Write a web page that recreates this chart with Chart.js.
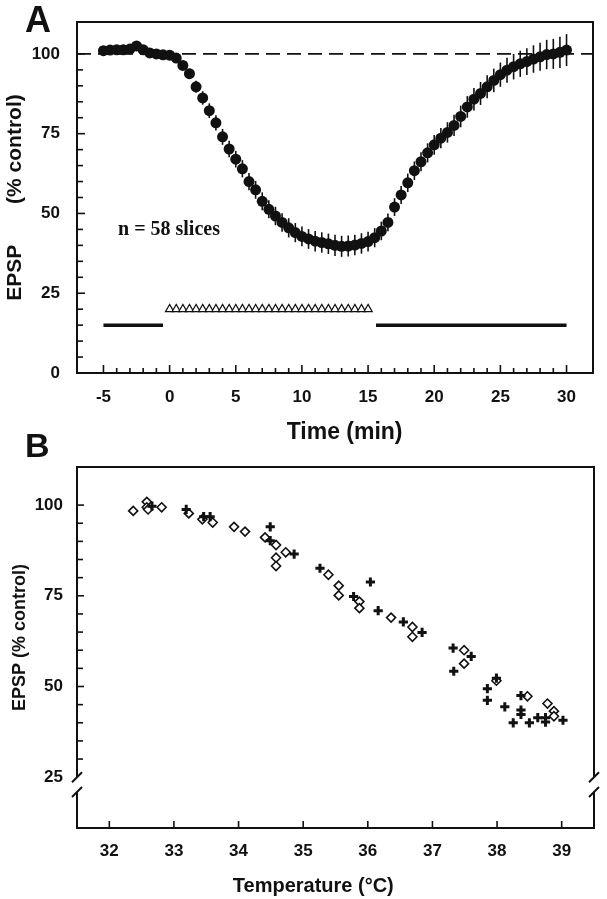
<!DOCTYPE html>
<html>
<head>
<meta charset="utf-8">
<script src="https://cdn.jsdelivr.net/npm/chart.js@4.4.0/dist/chart.umd.min.js"></script>
<style>
  body { margin: 0; background: #fff; width: 607px; height: 899px; position: relative; overflow: hidden; }
  #wrapA { position: absolute; left: 0; top: 0; width: 607px; height: 450px; }
  #wrapB { position: absolute; left: 0; top: 450px; width: 607px; height: 449px; }
  .panel { position: absolute; font: bold 36px "Liberation Sans", Arial, sans-serif; line-height: 1; color: #111; }
</style>
</head>
<body>
<div id="wrapA"><canvas id="chartA"></canvas></div>
<div id="wrapB"><canvas id="chartB"></canvas></div>
<div class="panel" style="left:25px;top:2px">A</div>
<div class="panel" style="left:25px;top:428px;font-size:34px">B</div>
<script>
// ---- panel A : EPSP vs time ----
var timesA = [-5, -4.5, -4, -3.5, -3, -2.5, -2, -1.5, -1, -0.5,
  0, 0.5, 1, 1.5, 2, 2.5, 3, 3.5, 4, 4.5,
  5, 5.5, 6, 6.5, 7, 7.5, 8, 8.5, 9, 9.5,
  10, 10.5, 11, 11.5, 12, 12.5, 13, 13.5, 14, 14.5,
  15, 15.5, 16, 16.5, 17, 17.5, 18, 18.5, 19, 19.5,
  20, 20.5, 21, 21.5, 22, 22.5, 23, 23.5, 24, 24.5,
  25, 25.5, 26, 26.5, 27, 27.5, 28, 28.5, 29, 29.5, 30];
var epspA = [101.0, 101.2, 101.3, 101.3, 101.5, 102.5, 101.3, 100.3, 100.0, 99.7,
  99.6, 98.7, 96.4, 93.8, 89.7, 86.2, 82.2, 78.4, 74.0, 70.2,
  67.0, 64.0, 60.0, 57.4, 53.8, 51.3, 49.2, 47.2, 45.5, 44.0,
  42.8, 42.0, 41.3, 40.9, 40.5, 40.0, 39.7, 39.8, 40.1, 40.6,
  41.2, 42.4, 44.5, 47.2, 52.0, 55.8, 59.6, 63.4, 66.2, 69.0,
  71.5, 73.6, 75.4, 77.6, 80.4, 83.4, 85.8, 87.6, 89.7, 91.7,
  93.5, 94.9, 96.0, 96.9, 97.6, 98.4, 99.1, 99.8, 100.0, 100.5, 101.2];
var semA = [0.8, 0.8, 0.8, 0.8, 0.8, 0.8, 0.8, 0.8, 0.8, 0.8,
  0.8, 1.0, 1.3, 1.6, 1.9, 2.1, 2.3, 2.4, 2.5, 2.6,
  2.6, 2.7, 2.7, 2.8, 2.8, 2.8, 2.9, 2.9, 3.0, 3.0,
  3.1, 3.1, 3.2, 3.2, 3.2, 3.3, 3.3, 3.3, 3.2, 3.2,
  3.1, 3.0, 2.9, 2.8, 2.8, 2.8, 2.9, 2.9, 3.0, 3.0,
  3.1, 3.2, 3.2, 3.3, 3.4, 3.4, 3.5, 3.6, 3.6, 3.7,
  3.8, 3.9, 4.0, 4.1, 4.2, 4.3, 4.4, 4.6, 4.7, 4.9, 5.0];
var baselineA = 100;
var solidBars = [[-5, -0.5], [15.6, 30]];   // control periods
var solidLevel = 15;
var triTimes = [0, 0.5, 1, 1.5, 2, 2.5, 3, 3.5, 4, 4.5, 5, 5.5, 6, 6.5, 7, 7.5,
  8, 8.5, 9, 9.5, 10, 10.5, 11, 11.5, 12, 12.5, 13, 13.5, 14, 14.5, 15];
var triLevel = 20;
var xTicksA = [-5, 0, 5, 10, 15, 20, 25, 30];
var yTicksA = [0, 25, 50, 75, 100];

// ---- panel B : EPSP vs temperature ----
var diamondT = [32.37, 32.58, 32.58, 32.6, 32.81, 33.23, 33.44, 33.6, 33.93, 34.1,
  34.41, 34.58, 34.58, 34.58, 34.73, 35.39, 35.55, 35.55, 35.87, 35.87,
  36.36, 36.69, 36.69, 37.49, 37.49, 37.99, 38.47, 38.78, 38.88, 38.88];
var diamondV = [98.4, 100.9, 99.4, 98.8, 99.4, 97.7, 96.1, 95.2, 94.0, 92.7,
  91.1, 89.0, 85.5, 83.2, 87.0, 80.8, 77.8, 75.1, 73.4, 71.6,
  69.0, 66.4, 63.7, 60.0, 56.3, 51.6, 47.3, 45.3, 43.2, 41.8];
var crossT = [32.66, 33.19, 33.46, 33.56, 34.49, 34.49, 34.86, 35.26, 35.78, 36.04,
  36.16, 36.55, 36.84, 37.32, 37.6, 37.33, 37.85, 37.85, 37.99, 38.12,
  38.37, 38.37, 38.37, 38.25, 38.5, 38.63, 38.75, 38.75, 39.02];
var crossV = [99.7, 98.8, 96.8, 96.8, 94.0, 90.2, 86.5, 82.6, 74.8, 78.8,
  70.9, 67.8, 64.9, 60.6, 58.3, 54.2, 49.4, 46.2, 52.3, 44.4,
  47.5, 43.5, 42.3, 40.0, 40.0, 41.4, 41.4, 40.2, 40.7];
var xTicksB = [32, 33, 34, 35, 36, 37, 38, 39];
var yTicksB = [25, 50, 75, 100];

Chart.defaults.font.family = '"Liberation Sans", Arial, sans-serif';
Chart.defaults.color = '#111';
var ink = '#111';

function pts(xs, ys) {
  return xs.map(function (x, i) { return { x: x, y: ys[i] }; });
}

// box round the plot and inward tick marks
var frame = {
  id: 'frame',
  afterDraw: function (chart, args, o) {
    var ctx = chart.ctx, a = chart.chartArea, sx = chart.scales.x, sy = chart.scales.y;
    ctx.save();
    ctx.strokeStyle = ink;
    ctx.lineWidth = 2;
    ctx.strokeRect(a.left, a.top, a.right - a.left, a.bottom - a.top);
    ctx.lineWidth = 1.6;
    for (var v = o.x.from; v <= o.x.to + 1e-9; v += o.x.step) {
      var px = sx.getPixelForValue(v);
      var len = Math.abs(v % o.x.major) < 1e-6 ? o.x.long : o.x.short;
      ctx.beginPath(); ctx.moveTo(px, a.bottom); ctx.lineTo(px, a.bottom - len); ctx.stroke();
    }
    for (var w = o.y.from; w <= o.y.to + 1e-9; w += o.y.step) {
      var py = sy.getPixelForValue(w);
      var l2 = Math.abs(w % o.y.major) < 1e-6 ? o.y.long : o.y.short;
      ctx.beginPath(); ctx.moveTo(a.left, py); ctx.lineTo(a.left + l2, py); ctx.stroke();
    }
    if (o.gap) {
      var y1 = sy.getPixelForValue(o.gap[0]), y2 = sy.getPixelForValue(o.gap[1]);
      [a.left, a.right].forEach(function (ax) {
        ctx.fillStyle = '#fff';
        ctx.fillRect(ax - 3, y1, 6, y2 - y1);
        ctx.lineWidth = 2;
        [y1, y2].forEach(function (yy) {
          ctx.beginPath(); ctx.moveTo(ax - 5, yy + 5); ctx.lineTo(ax + 5, yy - 5); ctx.stroke();
        });
      });
    }
    if (o.note) {
      ctx.fillStyle = ink;
      ctx.font = 'bold 20px "Liberation Serif", "Times New Roman", serif';
      ctx.textAlign = 'left';
      ctx.textBaseline = 'middle';
      ctx.fillText(o.note.text, sx.getPixelForValue(o.note.x), sy.getPixelForValue(o.note.y));
    }
    ctx.restore();
  }
};

// SEM bars under the mean points of panel A
var semBars = {
  id: 'semBars',
  beforeDatasetsDraw: function (chart) {
    var ctx = chart.ctx, sx = chart.scales.x, sy = chart.scales.y;
    ctx.save();
    ctx.strokeStyle = ink;
    ctx.lineWidth = 1.6;
    timesA.forEach(function (t, i) {
      var px = sx.getPixelForValue(t);
      ctx.beginPath();
      ctx.moveTo(px, sy.getPixelForValue(epspA[i] - semA[i]));
      ctx.lineTo(px, sy.getPixelForValue(epspA[i] + semA[i]));
      ctx.stroke();
    });
    ctx.restore();
  }
};

function labelsFrom(list) {
  return function (v) { return list.indexOf(v) >= 0 ? String(v) : ''; };
}

new Chart(document.getElementById('chartA'), {
  type: 'scatter',
  data: {
    datasets: [
      { data: pts(timesA, epspA), pointRadius: 5.5, pointBackgroundColor: ink, pointBorderWidth: 0 },
      { data: pts(triTimes, triTimes.map(function () { return triLevel; })), pointStyle: 'triangle',
        pointRadius: 4.8, pointBackgroundColor: '#fff', pointBorderColor: ink, pointBorderWidth: 1.2 },
      { type: 'line', data: [{ x: -7, y: baselineA }, { x: 32, y: baselineA }], borderColor: ink,
        borderWidth: 1.6, borderDash: [14, 7], pointRadius: 0 },
      { type: 'line', data: pts(solidBars[0], [solidLevel, solidLevel]), borderColor: ink, borderWidth: 3.5, pointRadius: 0 },
      { type: 'line', data: pts(solidBars[1], [solidLevel, solidLevel]), borderColor: ink, borderWidth: 3.5, pointRadius: 0 }
    ]
  },
  options: {
    responsive: true, maintainAspectRatio: false, animation: false, events: [],
    layout: { padding: { top: 22, right: 13, left: 0, bottom: 0 } },
    plugins: {
      legend: { display: false }, tooltip: { enabled: false },
      frame: {
        x: { from: -5, to: 30, step: 1, major: 5, long: 8, short: 5 },
        y: { from: 0, to: 100, step: 5, major: 25, long: 8, short: 6 },
        note: { text: 'n = 58 slices', x: -3.9, y: 45 }
      }
    },
    scales: {
      x: {
        type: 'linear', min: -7, max: 32,
        grid: { display: false, drawTicks: false }, border: { display: false },
        ticks: { stepSize: 1, autoSkip: false, maxRotation: 0, maxTicksLimit: 1000, padding: 14,
          font: { size: 17, weight: 'bold' }, callback: labelsFrom(xTicksA) },
        title: { display: true, text: '   Time (min)', font: { size: 23, weight: 'bold' }, padding: { top: 0, bottom: 4 } },
        afterFit: function (s) { s.height = 77; }
      },
      y: {
        min: 0, max: 110,
        grid: { display: false, drawTicks: false }, border: { display: false },
        ticks: { stepSize: 5, autoSkip: false, maxTicksLimit: 1000, padding: 17,
          font: { size: 17, weight: 'bold', lineHeight: 0.2 }, callback: labelsFrom(yTicksA) },
        title: { display: true, text: 'EPSP       (% control)', font: { size: 21, weight: 'bold' }, padding: { top: 3, bottom: 0 } },
        afterFit: function (s) { s.width = 77; }
      }
    }
  },
  plugins: [semBars, frame]
});

new Chart(document.getElementById('chartB'), {
  type: 'scatter',
  data: {
    datasets: [
      { data: pts(crossT, crossV), pointStyle: 'cross', pointRadius: 4.6, pointBorderColor: ink, pointBorderWidth: 3 },
      { data: pts(diamondT, diamondV), pointStyle: 'rectRot', pointRadius: 4.5,
        pointBackgroundColor: '#fff', pointBorderColor: ink, pointBorderWidth: 1.6 }
    ]
  },
  options: {
    responsive: true, maintainAspectRatio: false, animation: false, events: [],
    layout: { padding: { top: 17, right: 10, left: 0, bottom: 0 } },
    plugins: {
      legend: { display: false }, tooltip: { enabled: false },
      frame: {
        x: { from: 32, to: 39, step: 1, major: 1, long: 7, short: 7 },
        y: { from: 30, to: 100, step: 5, major: 25, long: 7, short: 6 },
        gap: [25, 20.9]
      }
    },
    scales: {
      x: {
        type: 'linear', min: 31.5, max: 39.5,
        grid: { display: false, drawTicks: false }, border: { display: false },
        ticks: { stepSize: 0.5, autoSkip: false, maxRotation: 0, maxTicksLimit: 1000, padding: 13,
          font: { size: 17, weight: 'bold' }, callback: labelsFrom(xTicksB) },
        title: { display: true, text: 'Temperature (°C)        ', font: { size: 20, weight: 'bold' }, padding: { top: 0, bottom: 1 } },
        afterFit: function (s) { s.height = 71; }
      },
      y: {
        min: 11, max: 110.5,
        grid: { display: false, drawTicks: false }, border: { display: false },
        ticks: { stepSize: 5, autoSkip: false, maxTicksLimit: 1000, padding: 14,
          font: { size: 17, weight: 'bold', lineHeight: 0.2 }, callback: labelsFrom(yTicksB) },
        title: { display: true, text: '    EPSP (% control)', font: { size: 18, weight: 'bold' }, padding: { top: 9, bottom: 0 } },
        afterFit: function (s) { s.width = 77; }
      }
    }
  },
  plugins: [frame]
});
</script>
</body>
</html>
